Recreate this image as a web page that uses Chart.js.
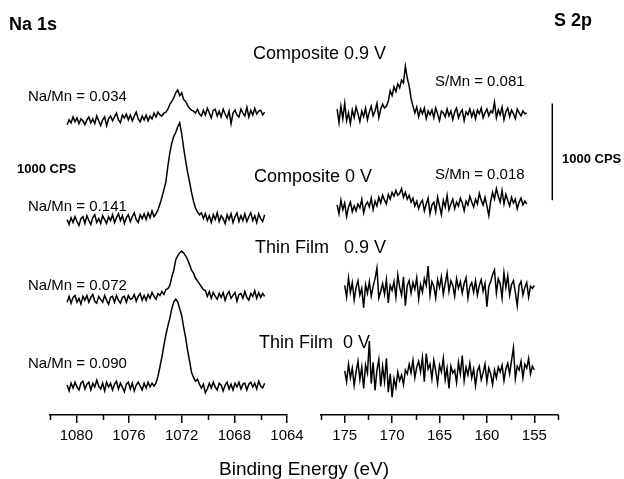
<!DOCTYPE html>
<html><head><meta charset="utf-8">
<script src="https://cdn.jsdelivr.net/npm/chart.js@4.4.1/dist/chart.umd.min.js"></script>
<style>
html,body{margin:0;padding:0;background:#fff;}
#wrap{position:relative;width:624px;height:479px;overflow:hidden;font-family:"Liberation Sans",Arial,Helvetica,sans-serif;color:#000;}
canvas{position:absolute;left:0;top:0;}
.t{position:absolute;white-space:pre;line-height:1;}
</style></head><body>
<div id="wrap">
<canvas id="na" width="624" height="479"></canvas>
<canvas id="s" width="624" height="479"></canvas>
<div class="t" style="left:9px;top:15px;font-size:18px;font-weight:bold">Na 1s</div>
<div class="t" style="left:554px;top:11px;font-size:18px;font-weight:bold">S 2p</div>
<div class="t" style="left:253px;top:44px;font-size:18px">Composite 0.9 V</div>
<div class="t" style="left:254px;top:167px;font-size:18px">Composite 0 V</div>
<div class="t" style="left:255px;top:238px;font-size:18px">Thin Film   0.9 V</div>
<div class="t" style="left:259px;top:333px;font-size:18px">Thin Film  0 V</div>
<div class="t" style="left:28px;top:88px;font-size:15px">Na/Mn = 0.034</div>
<div class="t" style="left:28px;top:198px;font-size:15px">Na/Mn = 0.141</div>
<div class="t" style="left:28px;top:277px;font-size:15px">Na/Mn = 0.072</div>
<div class="t" style="left:28px;top:355px;font-size:15px">Na/Mn = 0.090</div>
<div class="t" style="left:435px;top:73px;font-size:15px">S/Mn = 0.081</div>
<div class="t" style="left:435px;top:166px;font-size:15px">S/Mn = 0.018</div>
<div class="t" style="left:17px;top:162px;font-size:13px;font-weight:bold">1000 CPS</div>
<div class="t" style="left:562px;top:152px;font-size:13px;font-weight:bold">1000 CPS</div>
<div class="t" style="left:219px;top:459px;font-size:19px">Binding Energy (eV)</div>
</div>
<script>
// ---------- DATA ----------
// Energy sampling of each spectrum (eV): start, step, count
const naStart = 1080.7, naStep = 0.15, naCount = 101;
const sCompStart = 175.8, sThinStart = 175.0, sStep = 0.2, sCount = 101;

// Na 1s tick labels
const naMajorTicks = [1080, 1076, 1072, 1068, 1064];
const naMinorTicks = [1082, 1078, 1074, 1070, 1066];
// S 2p tick labels
const sMajorTicks = [175, 170, 165, 160, 155];
const sMinorTicks = [177.5, 172.5, 167.5, 162.5, 157.5, 152.5];

// Series names
const seriesNames = ["Composite 0.9 V", "Composite 0 V", "Thin Film 0.9 V", "Thin Film 0 V"];

// Na 1s intensities (CPS above each spectrum's own baseline)
const naComp09 = [-30,20,-10,50,0,40,-20,30,10,-30,
 20,50,-10,30,-20,60,10,-40,20,50,
 -40,30,60,10,50,90,20,-10,70,40,
 80,20,70,10,60,100,30,0,60,20,
 70,10,60,30,90,50,100,70,60,90,
 100,130,180,210,250,300,330,270,300,230,
 210,170,140,120,110,90,130,80,60,120,
 70,140,90,40,120,130,60,110,50,130,
 80,40,110,-20,90,120,70,50,130,90,
 60,150,50,120,70,140,80,110,120,70,100];
const naComp0 = [10,-40,30,-20,40,-10,-50,20,40,-30,
 50,0,-40,30,60,-20,20,-30,50,10,
 -30,40,0,60,-20,30,70,0,50,-30,
 30,60,-10,40,80,10,-20,60,20,70,
 10,80,30,100,40,70,110,170,240,320,
 400,560,700,800,870,910,970,1010,900,750,
 620,500,400,290,200,130,90,60,80,20,
 70,0,50,-20,60,10,80,-10,50,20,
 -30,60,10,70,-20,40,80,-10,50,0,
 70,-10,40,80,0,50,-20,70,20,-10,60];
const naThin09 = [-20,40,-30,30,50,-20,20,-40,40,0,
 50,-20,30,60,-10,-30,40,10,-20,50,
 0,-40,30,40,-20,50,0,-30,30,40,
 -20,50,10,20,60,-10,40,70,0,50,
 0,60,20,80,40,10,70,50,90,60,
 110,120,150,240,310,420,460,490,510,490,
 460,420,370,310,280,230,200,170,140,110,
 100,40,90,20,80,40,10,70,30,80,
 0,60,90,20,50,80,-10,60,70,20,
 90,30,0,70,40,100,20,80,30,70,40];
const naThin0 = [20,-40,40,-10,50,0,-30,40,60,-20,
 30,50,-30,40,0,70,10,-20,40,-40,
 50,0,40,-30,30,60,-20,40,0,-50,
 30,50,-20,40,-40,20,50,10,-30,40,
 -10,50,0,40,10,40,110,210,310,430,
 540,630,710,810,880,910,880,810,740,620,
 510,380,270,150,100,60,80,30,-10,30,
 -60,-20,40,-10,50,0,-30,40,20,-40,
 20,50,-20,30,-30,40,0,50,-20,30,
 40,-30,30,50,0,40,-20,60,10,-10,40];

// S 2p intensities (CPS above each spectrum's own baseline)
const sComp09 = [60,-80,90,-40,120,-60,20,-90,50,-30,
 80,10,-70,40,-20,70,-50,30,90,-10,
 40,120,-30,60,110,70,90,140,250,200,
 290,240,320,280,360,330,500,380,300,170,
 90,20,80,-20,60,10,70,-40,40,0,
 50,-30,70,10,-60,40,20,-20,60,-10,
 40,-50,30,70,-30,20,50,-60,30,0,
 60,-20,40,-40,50,10,70,-30,20,60,
 -10,40,20,130,-30,50,0,80,-50,30,
 70,-20,50,10,-40,60,20,-10,40,10,20];
const sComp0 = [30,-60,80,-20,50,-90,10,60,-40,20,
 -30,40,0,90,-50,30,60,10,100,-20,
 70,20,110,50,130,80,40,140,90,160,
 120,180,130,150,200,110,160,90,130,60,
 100,20,70,-10,50,80,-30,40,100,-60,
 30,60,-40,110,20,-70,80,10,130,-20,
 40,90,-10,60,20,100,50,-30,70,30,
 120,60,10,90,40,150,80,30,110,20,
 -80,70,160,90,200,120,60,180,40,140,
 80,20,110,50,90,-10,60,100,30,70,40];
const sThin09 = [40,-80,120,-30,70,-110,20,90,-60,10,
 -190,50,-40,80,-70,30,110,220,-90,-20,
 60,-50,100,-140,40,-10,80,-80,150,20,
 -60,130,-170,40,90,-40,70,0,120,-100,
 50,-30,110,40,240,-60,80,30,-90,100,
 20,130,-50,60,170,-20,90,40,-70,110,
 10,80,-40,60,120,-90,30,70,-30,90,
 -60,40,100,-20,60,-180,30,80,150,200,
 -40,110,60,-90,170,20,140,-60,50,90,
 -30,-170,40,80,-60,20,70,-80,30,10,40];
const sThin0 = [50,-60,120,-20,80,-100,40,150,-40,90,
 -130,110,30,360,-80,140,-150,60,170,-110,
 100,-60,180,-170,20,-220,-30,-120,40,-50,
 10,-90,60,20,120,30,160,-20,90,150,
 40,190,-60,230,70,120,-30,160,50,-80,
 110,40,180,-40,80,-130,100,30,60,-70,
 140,20,210,-50,90,10,130,-20,70,-100,
 50,100,-40,30,120,-60,80,20,-90,60,
 -20,90,40,110,-50,70,130,20,160,290,
 -30,100,60,150,-20,120,80,180,20,100,60];

// Vertical stacking offsets of each spectrum (CPS)
const naOffsets = [3031, 2010, 1186, 289];
const sOffsets = [3103, 2141, 1299, 405];
// Scale bar: 1000 CPS
const scaleBarCPS = 1000, scaleBarBase = 2220, scaleBarEnergy = 153.1;
const yMaxCPS = 4290;

// ---------- BUILD ----------
function grid(start, step, n){ const a=[]; for(let i=0;i<n;i++) a.push(+(start - i*step).toFixed(2)); return a; }
const naE = grid(naStart, naStep, naCount);
const sCompE = grid(sCompStart, sStep, sCount);
const sThinE = grid(sThinStart, sStep, sCount);
function pts(E, vals, off){ return vals.map((v,i)=>({x:E[i], y:v+off})); }

const minorTickPlugin = {
  id:'minorTicks',
  afterDraw(chart, args, opts){
    const s = chart.scales.x, ctx = chart.ctx;
    ctx.save(); ctx.strokeStyle='#000'; ctx.lineWidth=1.5;
    (opts.values||[]).forEach(v=>{
      const px = Math.round(s.getPixelForValue(v))+0.5;
      ctx.beginPath(); ctx.moveTo(px, s.top); ctx.lineTo(px, s.top+5); ctx.stroke();
    });
    ctx.restore();
  }
};

function lineDs(label, data){
  return {label, data, borderColor:'#000', borderWidth:1.5, pointRadius:0, tension:0, fill:false};
}

function makeOptions(min, max, majors, minors, padL, padR){
  return {
    responsive:false, animation:false, parsing:false,
    layout:{padding:{left:padL, right:padR, top:0, bottom:30}},
    plugins:{legend:{display:false}, tooltip:{enabled:false}, minorTicks:{values:minors}},
    scales:{
      x:{type:'linear', min, max, reverse:true,
         afterBuildTicks:(sc)=>{ sc.ticks = majors.map(v=>({value:v})); },
         grid:{drawOnChartArea:false, drawTicks:true, tickLength:8, color:'#000', lineWidth:1.5},
         border:{display:true, color:'#000', width:1.5},
         ticks:{autoSkip:false, maxRotation:0, padding:4, color:'#000',
                callback:(v)=>String(v),
                font:{family:'"Liberation Sans", Arial, sans-serif', size:15}}},
      y:{display:false, min:0, max:yMaxCPS}
    }
  };
}

new Chart(document.getElementById('na'), {
  type:'line',
  data:{datasets:[
    lineDs(seriesNames[0], pts(naE, naComp09, naOffsets[0])),
    lineDs(seriesNames[1], pts(naE, naComp0, naOffsets[1])),
    lineDs(seriesNames[2], pts(naE, naThin09, naOffsets[2])),
    lineDs(seriesNames[3], pts(naE, naThin0, naOffsets[3]))
  ]},
  options: makeOptions(1064, 1082, naMajorTicks, naMinorTicks, 50, 337),
  plugins:[minorTickPlugin]
});

new Chart(document.getElementById('s'), {
  type:'line',
  data:{datasets:[
    lineDs(seriesNames[0], pts(sCompE, sComp09, sOffsets[0])),
    lineDs(seriesNames[1], pts(sCompE, sComp0, sOffsets[1])),
    lineDs(seriesNames[2], pts(sThinE, sThin09, sOffsets[2])),
    lineDs(seriesNames[3], pts(sThinE, sThin0, sOffsets[3])),
    Object.assign(lineDs('1000 CPS', [{x:scaleBarEnergy, y:scaleBarBase},{x:scaleBarEnergy, y:scaleBarBase+scaleBarCPS}]), {borderWidth:1.5})
  ]},
  options: makeOptions(152.5, 177.5, sMajorTicks, sMinorTicks, 321, 66),
  plugins:[minorTickPlugin]
});
</script>
</body></html>
